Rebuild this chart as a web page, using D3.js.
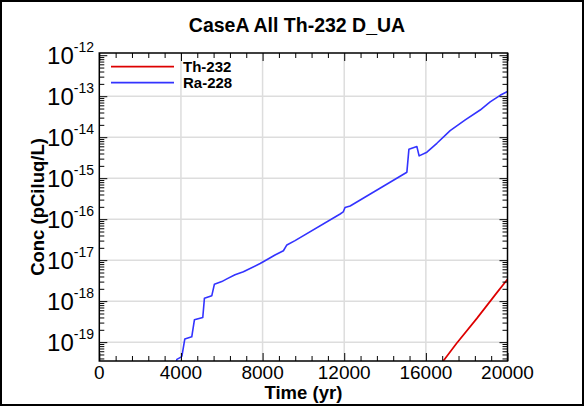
<!doctype html>
<html>
  <head>
    <meta charset="utf-8">
    <script src="https://d3js.org/d3.v7.min.js"></script>
    <style>
      body { margin: 0; background: #fff; }
    </style>
  </head>
  <body>
    <script>
    // values
    var raTime = [3750, 3800, 4000, 4050, 4190, 4530, 4660, 5070, 5150, 5510, 5640, 6000, 6250, 6650, 7060,
                  7880, 8120, 8610, 9020, 9190, 9590, 11800, 11950, 12040, 12290, 15070, 15170, 15560, 15670,
                  16050, 16540, 17190, 17930, 18660, 19150, 19640, 20000];
    var raConc = [2.8e-20, 3.8e-20, 4.3e-20, 4.6e-20, 1.2e-19, 1.35e-19, 3.5e-19, 4.0e-19, 1.17e-18, 1.35e-18,
                  2.6e-18, 3.0e-18, 3.5e-18, 4.4e-18, 5.2e-18, 8.3e-18, 9.7e-18, 1.34e-17, 1.7e-17, 2.35e-17,
                  3.0e-17, 1.34e-16, 1.5e-16, 1.93e-16, 2.1e-16, 1.4e-15, 5.1e-15, 5.9e-15, 3.5e-15, 4.3e-15,
                  7.1e-15, 1.45e-14, 2.65e-14, 4.6e-14, 7.3e-14, 1.05e-13, 1.3e-13];
    var thTime = [16700, 17500, 18500, 19500, 20000];
    var thConc = [2.75e-20, 9.3e-20, 3.8e-19, 1.66e-18, 3.4e-18];

    var seriesNames = ["Th-232", "Ra-228"];
    var seriesColors = ["#dd0000", "#3333ff"];
    var xTickValues = [0, 4000, 8000, 12000, 16000, 20000];
    var yExponents = [-12, -13, -14, -15, -16, -17, -18, -19];

    var width = 587;
    var height = 407;
    var plotLeft = 99.3, plotRight = 507.5, plotTop = 53, plotBottom = 361;
    var font = "'Liberation Sans', Arial, sans-serif";

    var svg = d3.select("body")
              .append("svg")
              .attr("width", width)
              .attr("height", height)
              .style("font-family", font);

    // outer border
    svg.append("rect")
      .attr("x", 1).attr("y", 1)
      .attr("width", 582).attr("height", 404)
      .attr("fill", "none")
      .attr("stroke", "#000")
      .attr("stroke-width", 2);

    var x = d3.scaleLinear().domain([0, 20000]).range([plotLeft, plotRight]);
    var y = d3.scaleLog().domain([Math.pow(10, -19.46), Math.pow(10, -11.946)]).range([plotBottom, plotTop]);

    // gridlines (none at the top decade, it sits on the frame)
    var grid = svg.append("g").attr("stroke", "#dddddd").attr("stroke-width", 1.5);
    grid.selectAll(".gx")
      .data(xTickValues.slice(1, -1))
      .enter().append("line")
      .attr("x1", function(d) { return x(d); })
      .attr("x2", function(d) { return x(d); })
      .attr("y1", plotTop).attr("y2", plotBottom);
    grid.selectAll(".gy")
      .data(yExponents.slice(1))
      .enter().append("line")
      .attr("x1", plotLeft).attr("x2", plotRight)
      .attr("y1", function(d) { return y(Math.pow(10, d)); })
      .attr("y2", function(d) { return y(Math.pow(10, d)); });

    svg.append("clipPath").attr("id", "plot")
      .append("rect")
      .attr("x", plotLeft).attr("y", plotTop)
      .attr("width", plotRight - plotLeft).attr("height", plotBottom - plotTop);

    var line = d3.line()
      .x(function(d) { return x(d[0]); })
      .y(function(d) { return y(d[1]); });

    var series = [d3.zip(thTime, thConc), d3.zip(raTime, raConc)];
    svg.append("g").attr("clip-path", "url(#plot)")
      .selectAll("path")
      .data(series)
      .enter().append("path")
      .attr("d", line)
      .attr("fill", "none")
      .attr("stroke", function(d, i) { return seriesColors[i]; })
      .attr("stroke-width", function(d, i) { return i == 0 ? 1.7 : 1.6; })
      .attr("stroke-linejoin", "round");

    // ticks, pointing inward on all four sides
    var xMinor = d3.range(0, 20001, 800).filter(function(d) { return d % 4000 != 0; });
    var yMinor = [];
    for (var e = -20; e <= -12; e++) {
      for (var k = 2; k <= 9; k++) {
        var v = k * Math.pow(10, e);
        if (v > y.domain()[0] && v < y.domain()[1]) yMinor.push(v);
      }
    }
    var yMajor = yExponents.map(function(d) { return Math.pow(10, d); });

    function tidy(g) {
      g.select(".domain").remove();
      g.selectAll("text").remove();
      g.selectAll("line").attr("stroke", "#000");
    }

    svg.append("g").attr("transform", "translate(0," + plotBottom + ")")
      .call(d3.axisBottom(x).tickValues(xTickValues).tickSize(-8)).call(tidy);
    svg.append("g").attr("transform", "translate(0," + plotBottom + ")")
      .call(d3.axisBottom(x).tickValues(xMinor).tickSize(-5)).call(tidy);
    svg.append("g").attr("transform", "translate(0," + plotTop + ")")
      .call(d3.axisTop(x).tickValues(xTickValues).tickSize(-8)).call(tidy);
    svg.append("g").attr("transform", "translate(0," + plotTop + ")")
      .call(d3.axisTop(x).tickValues(xMinor).tickSize(-5)).call(tidy);
    svg.append("g").attr("transform", "translate(" + plotLeft + ",0)")
      .call(d3.axisLeft(y).tickValues(yMajor).tickSize(-8)).call(tidy);
    svg.append("g").attr("transform", "translate(" + plotLeft + ",0)")
      .call(d3.axisLeft(y).tickValues(yMinor).tickSize(-5)).call(tidy);
    svg.append("g").attr("transform", "translate(" + plotRight + ",0)")
      .call(d3.axisRight(y).tickValues(yMajor).tickSize(-8)).call(tidy);
    svg.append("g").attr("transform", "translate(" + plotRight + ",0)")
      .call(d3.axisRight(y).tickValues(yMinor).tickSize(-5)).call(tidy);

    // plot frame
    svg.append("rect")
      .attr("x", plotLeft).attr("y", plotTop)
      .attr("width", plotRight - plotLeft).attr("height", plotBottom - plotTop)
      .attr("fill", "none")
      .attr("stroke", "#000")
      .attr("stroke-width", 1.5);

    // tick labels
    svg.selectAll(".xl")
      .data(xTickValues)
      .enter().append("text")
      .attr("x", function(d) { return x(d); })
      .attr("y", 378.5)
      .attr("text-anchor", "middle")
      .attr("font-size", "19px")
      .text(function(d) { return d; });

    var yl = svg.selectAll(".yl")
      .data(yExponents)
      .enter().append("text")
      .attr("x", 94)
      .attr("y", function(d) { return y(Math.pow(10, d)) + 8.5; })
      .attr("text-anchor", "end");
    yl.append("tspan").attr("font-size", "24px").text("10");
    yl.append("tspan").attr("font-size", "14px").attr("dy", -11.5).text(function(d) { return d; });

    // titles
    svg.append("text")
      .attr("x", 297).attr("y", 32)
      .attr("text-anchor", "middle")
      .attr("font-size", "19.5px").attr("font-weight", "bold")
      .text("CaseA All Th-232 D_UA");
    svg.append("text")
      .attr("x", (plotLeft + plotRight) / 2).attr("y", 398.5)
      .attr("text-anchor", "middle")
      .attr("font-size", "18.5px").attr("font-weight", "bold")
      .text("Time (yr)");
    svg.append("text")
      .attr("transform", "translate(43.5," + ((plotTop + plotBottom) / 2) + ") rotate(-90)")
      .attr("text-anchor", "middle")
      .attr("font-size", "18.5px").attr("font-weight", "bold")
      .text("Conc (pCiluq/L)");

    // legend
    var legend = svg.selectAll(".lg")
      .data(seriesNames)
      .enter().append("g")
      .attr("transform", function(d, i) { return "translate(0," + (66.7 + i * 16) + ")"; });
    legend.append("line")
      .attr("x1", 111).attr("x2", 174)
      .attr("stroke", function(d, i) { return seriesColors[i]; })
      .attr("stroke-width", 1.8);
    legend.append("text")
      .attr("x", 183).attr("y", 5.3)
      .attr("font-size", "15px").attr("font-weight", "bold")
      .text(function(d) { return d; });
    </script>
  </body>
</html>
